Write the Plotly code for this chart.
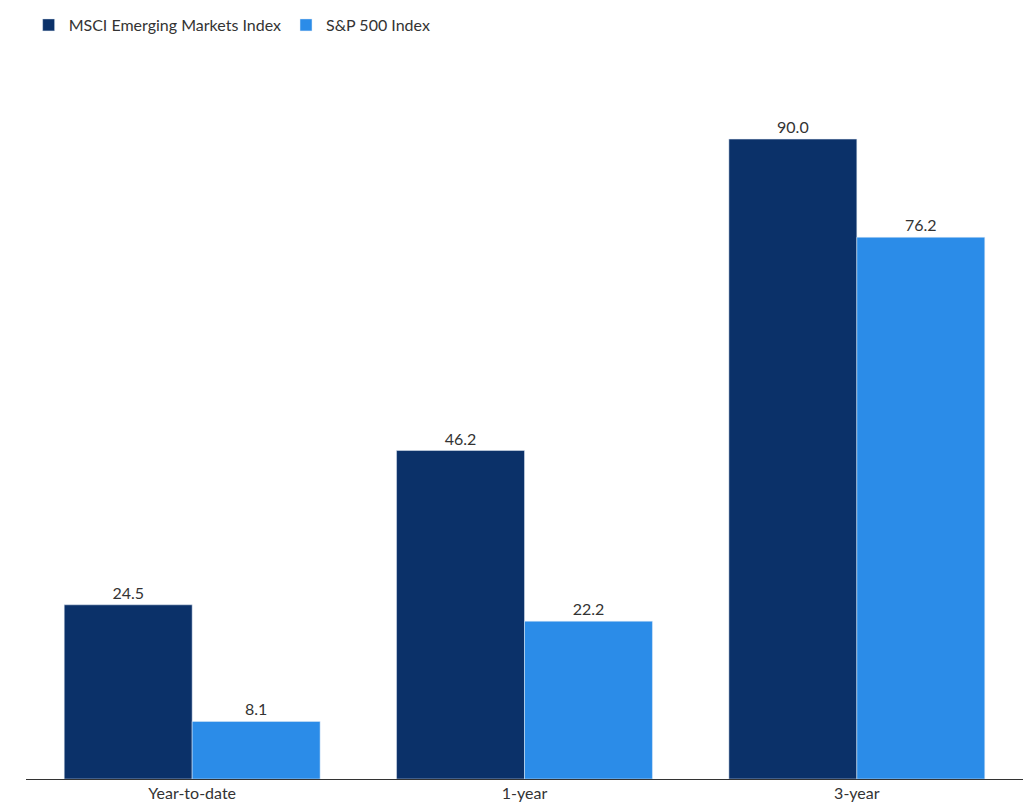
import plotly.graph_objects as go

periods = ["Year-to-date", "1-year", "3-year"]
msci_em = [24.5, 46.2, 90.0]
sp500 = [8.1, 22.2, 76.2]

fig = go.Figure()
fig.add_trace(go.Bar(x=periods, y=msci_em, name="MSCI Emerging Markets Index",
                     marker_color="#0b3169", text=[f"{v:.1f}" for v in msci_em],
                     textposition="outside", cliponaxis=False))
fig.add_trace(go.Bar(x=periods, y=sp500, name="S&P 500 Index",
                     marker_color="#2b8ce8", text=[f"{v:.1f}" for v in sp500],
                     textposition="outside", cliponaxis=False))

fig.update_traces(textfont=dict(size=16, color="#333333"))
fig.update_layout(
    width=1032, height=807,
    margin=dict(l=18, r=17, t=60, b=36),
    barmode="group", bargap=0.23, bargroupgap=0,
    plot_bgcolor="white", paper_bgcolor="white",
    font=dict(family="Lato, sans-serif", size=16, color="#333333"),
    legend=dict(orientation="h", x=0.02, y=1.0, xref="container", yref="container",
                xanchor="left", yanchor="top", font=dict(size=16), itemwidth=30,
                tracegroupgap=0),
    yaxis=dict(range=[0, 100], visible=False),
    xaxis=dict(showline=True, linecolor="#333333", linewidth=1, ticks=""),
)
fig.write_html("out.html")
